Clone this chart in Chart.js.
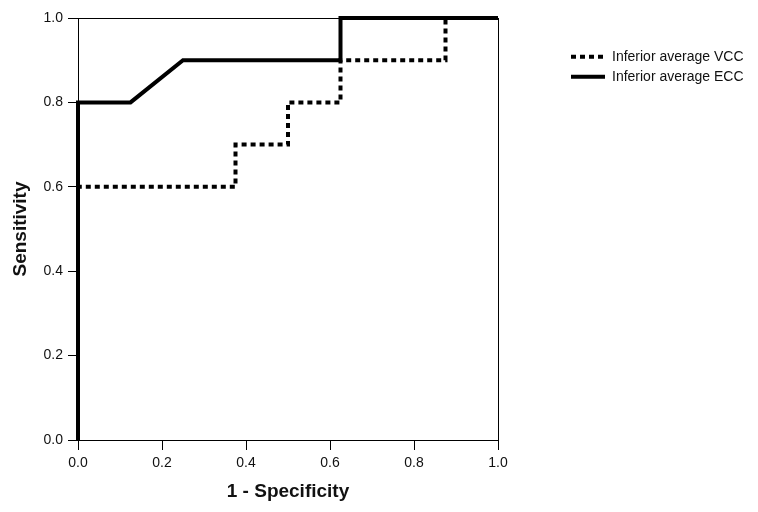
<!DOCTYPE html>
<html>
<head>
<meta charset="utf-8">
<script src="https://cdn.jsdelivr.net/npm/chart.js@4/dist/chart.umd.min.js"></script>
<style>
  html, body { margin: 0; padding: 0; background: #fff; }
  #wrap { width: 758px; height: 512px; }
</style>
</head>
<body>
<div id="wrap"><canvas id="graph" width="758" height="512"></canvas></div>
<script>
// ROC curves
const seriesNames = ['Inferior average VCC', 'Inferior average ECC'];
const vccX = [0, 0, 0.375, 0.375, 0.5, 0.5, 0.625, 0.625, 0.875, 0.875, 1];
const vccY = [0, 0.6, 0.6, 0.7, 0.7, 0.8, 0.8, 0.9, 0.9, 1.0, 1.0];
const eccX = [0, 0, 0.125, 0.25, 0.625, 0.625, 1];
const eccY = [0, 0.8, 0.8, 0.9, 0.9, 1.0, 1.0];
const tickValues = [0, 0.2, 0.4, 0.6, 0.8, 1.0];

function toPoints(xs, ys) {
  return xs.map((x, i) => ({x: x, y: ys[i]}));
}

Chart.defaults.font.family = "'Liberation Sans', Arial, sans-serif";
Chart.defaults.font.size = 14;
Chart.defaults.color = '#111';

// the legend box gets capped narrow by the layout (and clips its text),
// so after layout let it run out to the canvas edge
const widenLegend = {
  id: 'widenLegend',
  afterLayout(chart) {
    const lg = chart.legend;
    if (!lg) return;
    lg.right = chart.width;
    lg.width = lg.right - lg.left;
  }
};

function update_graph() {
  let ctx = document.getElementById('graph').getContext('2d');

  let rocChart = new Chart(ctx, {
    type: 'line',
    data: {
      datasets: [{
        label: seriesNames[0],
        data: toPoints(vccX, vccY),
        borderColor: '#000',
        backgroundColor: 'transparent',
        borderWidth: 4,
        borderDash: [5, 4],
        borderCapStyle: 'butt',
        pointRadius: 0,
        tension: 0,
        clip: 3
      }, {
        label: seriesNames[1],
        data: toPoints(eccX, eccY),
        borderColor: '#000',
        backgroundColor: 'transparent',
        borderWidth: 4,
        borderCapStyle: 'butt',
        pointRadius: 0,
        tension: 0,
        clip: 3
      }]
    },
    plugins: [widenLegend],
    options: {
      responsive: false,
      animation: false,
      devicePixelRatio: 1,
      // legend box is capped at (width - padding) / 6, this puts its left edge at 565
      layout: { padding: { top: 0, left: 0, bottom: 0, right: 80 } },
      plugins: {
        tooltip: { enabled: false },
        legend: {
          position: 'right',
          align: 'start',
          fullSize: false,
          title: { display: true, text: '', font: { size: 14 }, padding: { top: 0, bottom: 9 } },
          labels: {
            boxWidth: 34,
            boxHeight: 0,
            padding: 6,
            font: { size: 14 },
            color: '#111'
          }
        }
      },
      scales: {
        x: {
          type: 'linear',
          position: 'bottom',
          min: 0,
          max: 1,
          afterBuildTicks: axis => { axis.ticks = tickValues.map(v => ({value: v})); },
          ticks: { padding: 5, callback: v => v.toFixed(1), maxRotation: 0 },
          grid: { drawOnChartArea: false, tickLength: 10, tickColor: '#000' },
          border: { color: '#000', width: 1 },
          title: { display: true, text: '1 - Specificity', font: { size: 19, weight: 'bold' }, padding: { top: 0, bottom: 9 } },
          afterFit: axis => { axis.height = 72; }
        },
        y: {
          type: 'linear',
          position: 'left',
          min: 0,
          max: 1,
          afterBuildTicks: axis => { axis.ticks = tickValues.map(v => ({value: v})); },
          ticks: { padding: 5, callback: v => v.toFixed(1) },
          grid: { drawOnChartArea: false, tickLength: 10, tickColor: '#000' },
          border: { color: '#000', width: 1 },
          title: { display: true, text: 'Sensitivity', font: { size: 19, weight: 'bold' }, padding: { top: 9, bottom: 0 } },
          afterFit: axis => { axis.width = 78; }
        },
        xTop: {
          type: 'linear',
          position: 'top',
          display: true,
          min: 0,
          max: 1,
          ticks: { display: false },
          grid: { drawOnChartArea: false, drawTicks: false },
          border: { color: '#000', width: 1 },
          afterFit: axis => { axis.height = 18; }
        },
        yRight: {
          type: 'linear',
          position: 'right',
          display: true,
          min: 0,
          max: 1,
          ticks: { display: false },
          grid: { drawOnChartArea: false, drawTicks: false },
          border: { color: '#000', width: 1 },
          afterFit: axis => { axis.width = 67; }
        }
      }
    }
  });
}

update_graph();
</script>
</body>
</html>
